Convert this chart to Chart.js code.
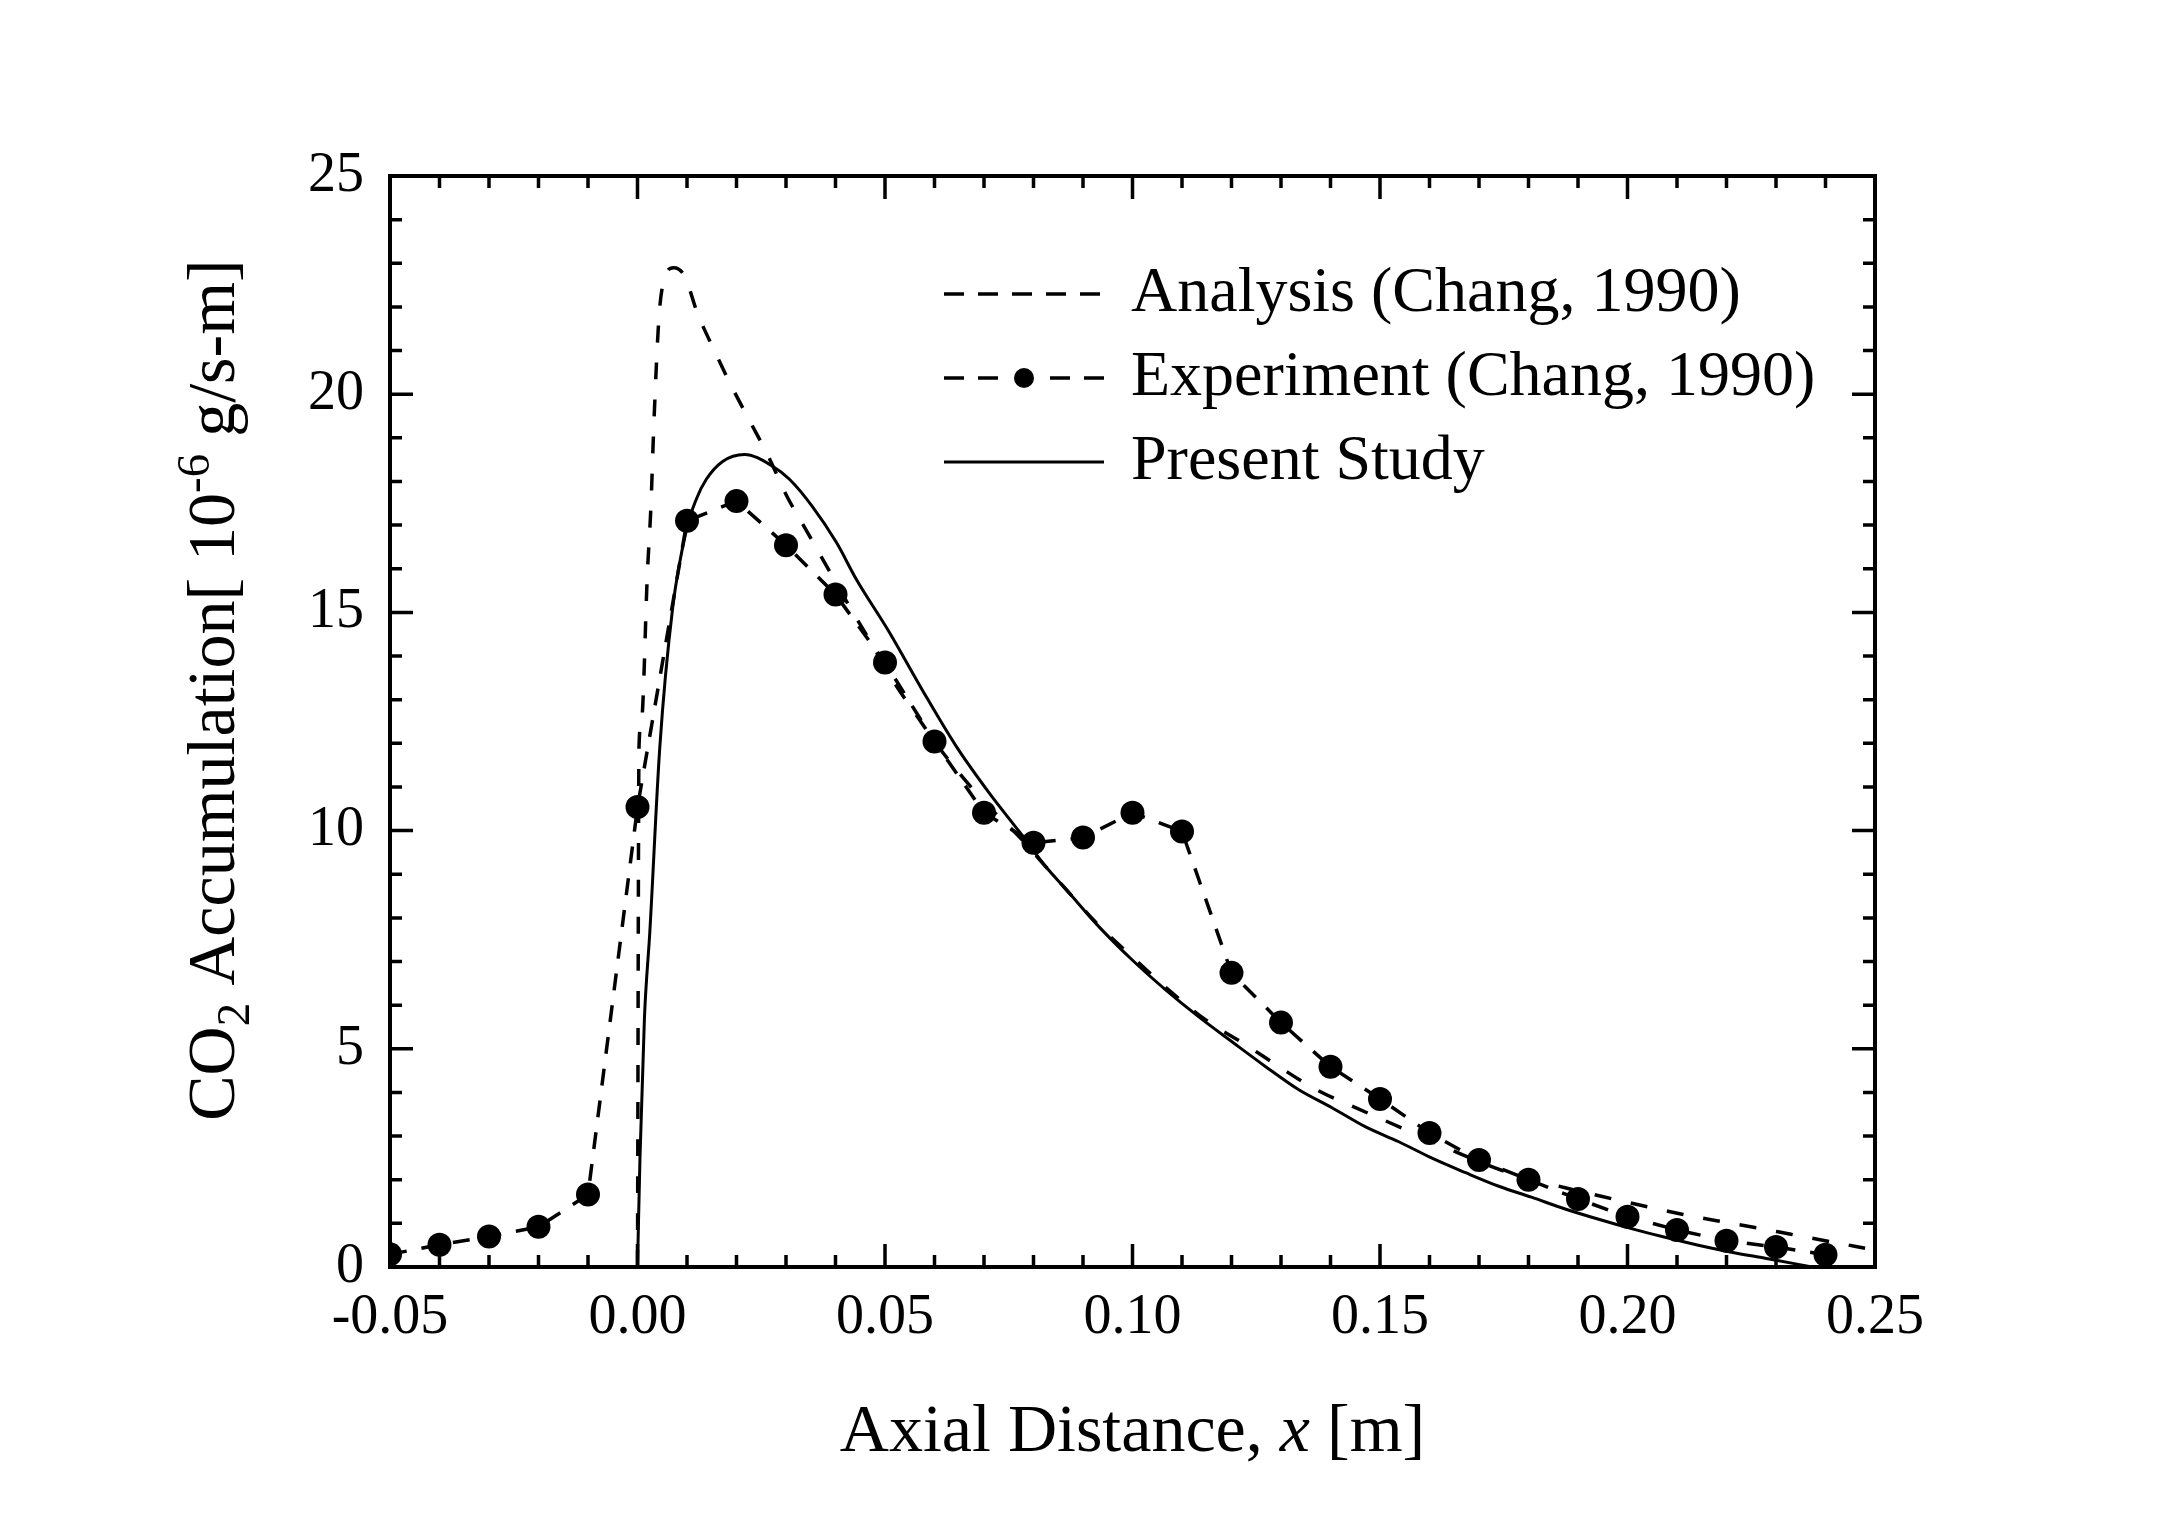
<!DOCTYPE html>
<html>
<head>
<meta charset="utf-8">
<script src="https://cdn.jsdelivr.net/npm/chart.js@4.4.1/dist/chart.umd.min.js"></script>
<style>
  html, body { margin: 0; padding: 0; background: #fff; }
  canvas { display: block; }
</style>
</head>
<body>
<canvas id="co2Chart" width="2178" height="1521"></canvas>
<script>
// Experiment (Chang, 1990) - dots joined by dashes
const expX = [-0.05, -0.04, -0.03, -0.02, -0.01, 0.00, 0.01, 0.02, 0.03, 0.04, 0.05, 0.06, 0.07, 0.08, 0.09,
              0.10, 0.11, 0.12, 0.13, 0.14, 0.15, 0.16, 0.17, 0.18, 0.19, 0.20, 0.21, 0.22, 0.23, 0.24];
const expY = [0.29, 0.51, 0.70, 0.92, 1.66, 10.54, 17.1, 17.55, 16.54, 15.41, 13.85, 12.04, 10.41, 9.72, 9.84,
              10.41, 9.98, 6.74, 5.6, 4.59, 3.85, 3.07, 2.45, 2.0, 1.56, 1.15, 0.85, 0.6, 0.46, 0.28];

// Analysis (Chang, 1990) - dashed curve
const anaX = [0.0, 0.0003, 0.0008, 0.002, 0.0027, 0.0033, 0.0043, 0.0051, 0.0073, 0.0095, 0.0121, 0.0154, 0.019,
              0.0228, 0.0265, 0.0301, 0.0341, 0.0382, 0.0428, 0.0468, 0.0515, 0.0569, 0.0616, 0.067, 0.0716, 0.0777,
              0.0825, 0.0866, 0.093, 0.1, 0.108, 0.1148, 0.1229, 0.13, 0.1372, 0.1447, 0.1521, 0.1598, 0.1659,
              0.175, 0.188, 0.197, 0.204, 0.211, 0.218, 0.226, 0.233, 0.241, 0.248];
const anaY = [0.0, 11.9, 12.5, 15.9, 17.4, 19.3, 21.7, 22.5, 22.9, 22.71, 21.86, 21.03, 20.18,
              19.36, 18.56, 17.68, 16.88, 16.06, 15.14, 14.38, 13.46, 12.55, 11.8, 11.05, 10.48, 9.79,
              9.17, 8.65, 7.85, 7.1, 6.28, 5.66, 5.09, 4.56, 4.06, 3.67, 3.3, 2.91, 2.61,
              2.2, 1.8, 1.56, 1.38, 1.21, 1.06, 0.9, 0.75, 0.58, 0.43];

// Present Study - solid curve
const preX = [0.0, 0.0005, 0.0014, 0.0025, 0.0045, 0.0071, 0.0099, 0.0119, 0.0139, 0.0172, 0.0216, 0.0273, 0.0307,
              0.0353, 0.0402, 0.0442, 0.0509, 0.0575, 0.0644, 0.071, 0.0771, 0.0825, 0.0866, 0.0932, 0.0999,
              0.1067, 0.1134, 0.1201, 0.1269, 0.1336, 0.1403, 0.1471, 0.1538, 0.1604, 0.1673, 0.174, 0.1806,
              0.1874, 0.194, 0.2008, 0.2076, 0.2143, 0.221, 0.2278, 0.2345, 0.2395];
const preY = [0.0, 2.5, 5.7, 7.7, 11.9, 15.1, 16.9, 17.6, 18.05, 18.46, 18.62, 18.35, 18.05,
              17.43, 16.6, 15.76, 14.54, 13.23, 11.93, 10.87, 9.98, 9.17, 8.65, 7.8, 7.04,
              6.35, 5.73, 5.16, 4.59, 4.06, 3.65, 3.21, 2.87, 2.5, 2.16, 1.85, 1.6,
              1.33, 1.1, 0.88, 0.68, 0.5, 0.34, 0.2, 0.06, -0.05];

const xTicks = [-0.05, 0.00, 0.05, 0.10, 0.15, 0.20, 0.25];
const yTicks = [0, 5, 10, 15, 20, 25];
const xMinorStep = 0.01;
const yMinorStep = 1;

const serif = "'Liberation Serif', 'Times New Roman', serif";

function toPoints(xs, ys) {
    return xs.map((x, i) => ({ x: x, y: ys[i] }));
}

// box round the plot + inward ticks on all four sides
const frameTicks = {
    id: 'frameTicks',
    afterDatasetsDraw(chart) {
        const ctx = chart.ctx;
        const a = chart.chartArea;
        const xs = chart.scales.x, ys = chart.scales.y;
        ctx.save();
        ctx.strokeStyle = '#000';
        ctx.lineWidth = 3.5;
        ctx.beginPath();
        const nx = Math.round((xs.max - xs.min) / xMinorStep);
        for (let i = 0; i <= nx; i++) {
            const v = xs.min + i * xMinorStep;
            const major = xTicks.some(t => Math.abs(t - v) < 1e-9);
            const len = major ? 23 : 12;
            const px = xs.getPixelForValue(v);
            ctx.moveTo(px, a.bottom); ctx.lineTo(px, a.bottom - len);
            ctx.moveTo(px, a.top); ctx.lineTo(px, a.top + len);
        }
        const ny = Math.round((ys.max - ys.min) / yMinorStep);
        for (let i = 0; i <= ny; i++) {
            const v = ys.min + i * yMinorStep;
            const major = yTicks.some(t => Math.abs(t - v) < 1e-9);
            const len = major ? 23 : 12;
            const py = ys.getPixelForValue(v);
            ctx.moveTo(a.left, py); ctx.lineTo(a.left + len, py);
            ctx.moveTo(a.right, py); ctx.lineTo(a.right - len, py);
        }
        ctx.stroke();
        ctx.lineWidth = 4;
        ctx.strokeRect(a.left, a.top, a.right - a.left, a.bottom - a.top);
        ctx.restore();
    }
};

// legend inside the plot, drawn from the datasets
const legendBox = {
    id: 'legendBox',
    afterDraw(chart) {
        const ctx = chart.ctx;
        const rows = [294, 378, 462];
        const x0 = 944, x1 = 1104, tx = 1131;
        chart.data.datasets.forEach((ds, i) => {
            const y = rows[i];
            const dash = ds.borderDash && ds.borderDash.length ? [20, 14] : [];
            ctx.save();
            ctx.strokeStyle = '#000';
            ctx.fillStyle = '#000';
            ctx.lineWidth = ds.borderWidth;
            ctx.setLineDash(dash);
            if (ds.pointRadius > 0) {
                const cx = (x0 + x1) / 2;
                ctx.beginPath();
                ctx.moveTo(x0, y); ctx.lineTo(cx - 14, y);
                ctx.stroke();
                ctx.beginPath();
                ctx.moveTo(x1, y); ctx.lineTo(cx + 14, y);
                ctx.stroke();
                ctx.setLineDash([]);
                ctx.beginPath();
                ctx.arc(cx, y, 10, 0, 2 * Math.PI);
                ctx.fill();
            } else {
                ctx.beginPath();
                ctx.moveTo(x0, y); ctx.lineTo(x1, y);
                ctx.stroke();
            }
            ctx.font = '64px ' + serif;
            ctx.textBaseline = 'middle';
            ctx.fillText(ds.label, tx, y);
            ctx.restore();
        });
    }
};

// axis titles with sub/superscript and italic
const axisTitles = {
    id: 'axisTitles',
    afterDraw(chart) {
        const ctx = chart.ctx;
        const a = chart.chartArea;
        const big = 68, small = 47;
        ctx.save();
        ctx.fillStyle = '#000';
        ctx.textBaseline = 'alphabetic';

        // x title
        const xParts = [
            { t: 'Axial Distance, ', f: big + 'px ' + serif },
            { t: 'x', f: 'italic ' + big + 'px ' + serif },
            { t: ' [m]', f: big + 'px ' + serif }
        ];
        let w = 0;
        xParts.forEach(p => { ctx.font = p.f; w += ctx.measureText(p.t).width; });
        let cx = (a.left + a.right) / 2 - w / 2;
        xParts.forEach(p => { ctx.font = p.f; ctx.fillText(p.t, cx, 1451); cx += ctx.measureText(p.t).width; });

        // y title, rotated
        const yParts = [
            { t: 'CO', f: big + 'px ' + serif, dy: 0 },
            { t: '2', f: small + 'px ' + serif, dy: 15 },
            { t: ' Accumulation[ 10', f: big + 'px ' + serif, dy: 0 },
            { t: '-6', f: small + 'px ' + serif, dy: -25 },
            { t: ' g/s-m]', f: big + 'px ' + serif, dy: 0 }
        ];
        w = 0;
        yParts.forEach(p => { ctx.font = p.f; w += ctx.measureText(p.t).width; });
        ctx.translate(234, 690);
        ctx.rotate(-Math.PI / 2);
        let cy = -w / 2;
        yParts.forEach(p => { ctx.font = p.f; ctx.fillText(p.t, cy, p.dy); cy += ctx.measureText(p.t).width; });
        ctx.restore();
    }
};

document.addEventListener("DOMContentLoaded", function() {
    const ctx = document.getElementById("co2Chart").getContext("2d");

    new Chart(ctx, {
        type: 'scatter',
        data: {
            datasets: [{
                label: 'Analysis (Chang, 1990)',
                data: toPoints(anaX, anaY),
                showLine: true,
                borderColor: '#000',
                borderWidth: 3.5,
                borderDash: [17, 20],
                pointRadius: 0,
                cubicInterpolationMode: 'monotone',
                order: 1
            }, {
                label: 'Experiment (Chang, 1990)',
                data: toPoints(expX, expY),
                showLine: true,
                borderColor: '#000',
                borderWidth: 3.5,
                borderDash: [17, 15],
                pointRadius: 12,
                pointBackgroundColor: '#000',
                pointBorderWidth: 0,
                tension: 0,
                order: 0
            }, {
                label: 'Present Study',
                data: toPoints(preX, preY),
                showLine: true,
                borderColor: '#000',
                borderWidth: 3,
                pointRadius: 0,
                cubicInterpolationMode: 'monotone',
                order: 2
            }]
        },
        options: {
            responsive: false,
            animation: false,
            devicePixelRatio: 1,
            layout: {
                padding: { top: 176, right: 303, left: 0, bottom: 0 }
            },
            plugins: {
                legend: { display: false },
                tooltip: { enabled: false }
            },
            scales: {
                x: {
                    type: 'linear',
                    min: -0.05,
                    max: 0.25,
                    afterBuildTicks: s => { s.ticks = xTicks.map(v => ({ value: v })); },
                    afterFit: s => { s.height = 254; },
                    grid: { display: false, drawTicks: false },
                    border: { display: false },
                    ticks: {
                        color: '#000',
                        padding: 18,
                        font: { family: serif, size: 56 },
                        callback: v => v.toFixed(2)
                    }
                },
                y: {
                    type: 'linear',
                    min: 0,
                    max: 25,
                    afterBuildTicks: s => { s.ticks = yTicks.map(v => ({ value: v })); },
                    afterFit: s => { s.width = 390; },
                    grid: { display: false, drawTicks: false },
                    border: { display: false },
                    ticks: {
                        color: '#000',
                        padding: 26,
                        font: { family: serif, size: 56 },
                        callback: v => String(v)
                    }
                }
            }
        },
        plugins: [frameTicks, legendBox, axisTitles]
    });
});
</script>
</body>
</html>
